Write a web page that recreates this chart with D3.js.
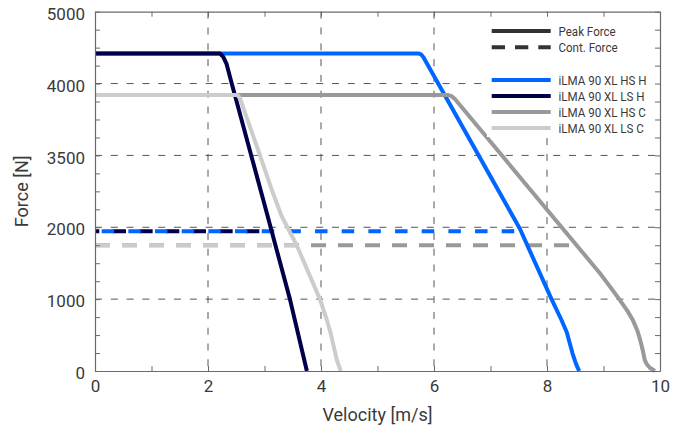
<!DOCTYPE html>
<html>
<head>
<meta charset="utf-8">
<script src="https://cdn.jsdelivr.net/npm/d3@7"></script>
<style>
  html, body { margin: 0; padding: 0; background: #fff; }
  svg { display: block; font-family: Roboto, "Noto Sans", sans-serif; }
</style>
</head>
<body>
<svg id="chart" width="688" height="438"></svg>
<script>
// Axis ticks and labels
const xTicks = [0, 1, 2, 3, 4, 5, 6, 7, 8, 9, 10];
const xGrid = [2, 4, 6, 8];
const yTicks = d3.range(0, 5001, 250);
const yLabelValues = [0, 1000, 2000, 3000, 4000, 5000];
const yLabels = ["0", "1000", "2000", "3500", "4000", "5000"];
const yGrid = [1000, 2000, 3000, 4000];

// Series names and colours
const seriesNames = ["iLMA 90 XL HS H", "iLMA 90 XL LS H", "iLMA 90 XL HS C", "iLMA 90 XL LS C"];
const seriesColors = ["#0066ff", "#00004a", "#999999", "#cccccc"];

// Peak force curves: velocity [m/s] and force [N]
const hsHVel = [0, 5.72, 5.77, 5.81, 7.52, 8.08, 8.25, 8.35, 8.45, 8.50, 8.54, 8.57];
const hsHForce = [4420, 4420, 4405, 4370, 1980, 1000, 720, 540, 250, 130, 50, 0];
const lsHVel = [0, 2.21, 2.27, 2.33, 2.42, 2.98, 3.45, 3.75];
const lsHForce = [4420, 4420, 4370, 4270, 4000, 2375, 1000, 0];
const hsCVel = [0, 6.25, 6.31, 6.37, 8.94, 9.12, 9.29, 9.42, 9.52, 9.60, 9.65, 9.70, 9.73, 9.77, 9.82, 9.91];
const hsCForce = [3840, 3840, 3825, 3785, 1357, 1170, 986, 840, 708, 560, 430, 270, 153, 90, 45, 0];
const lsCVel = [0, 2.51, 2.54, 2.57, 2.89, 3.12, 3.30, 3.57, 3.98, 4.10, 4.17, 4.28, 4.35];
const lsCForce = [3840, 3840, 3825, 3785, 3069, 2540, 2160, 1750, 1000, 720, 528, 153, 0];

// Continuous force levels [N] and the velocity range they span
const contForce = [1945, 1945, 1750, 1750];
const contEnd = [7.5, 3.1, 8.5, 3.57];

const svg = d3.select("#chart");
const x = d3.scaleLinear().domain([0, 10]).range([95, 660]);
const y = d3.scaleLinear().domain([0, 5000]).range([371, 11.7]);

const axisColor = "#6a6a6a";
const textColor = "#3a3a3a";

// Dashed grid
const grid = svg.append("g").attr("stroke", "#555").attr("stroke-width", 1)
  .attr("stroke-dasharray", "7,8.8").attr("fill", "none");
xGrid.forEach(v => grid.append("line")
  .attr("x1", x(v)).attr("x2", x(v)).attr("y1", y(5000)).attr("y2", y(0)));
yGrid.forEach(v => grid.append("line")
  .attr("x1", x(0)).attr("x2", x(10)).attr("y1", y(v)).attr("y2", y(v)));

// Continuous force dashed lines (light series drawn over darker ones)
const line = d3.line().x(d => x(d[0])).y(d => y(d[1]));
const contStyle = [
  { dash: "12.5,14.17", offset: 20 },
  { dash: "13.3,13.37", offset: 9 },
  { dash: "15,12", offset: 0 },
  { dash: "15,12", offset: 0 }
];
const contOrder = [1, 0, 2, 3];
contOrder.forEach(i => {
  svg.append("path")
    .attr("d", line([[0, contForce[i]], [contEnd[i], contForce[i]]]))
    .attr("fill", "none").attr("stroke", seriesColors[i]).attr("stroke-width", 4.2)
    .attr("stroke-dasharray", contStyle[i].dash)
    .attr("stroke-dashoffset", contStyle[i].offset);
});

// Peak force curves
const peaks = [
  d3.zip(hsHVel, hsHForce),
  d3.zip(lsHVel, lsHForce),
  d3.zip(hsCVel, hsCForce),
  d3.zip(lsCVel, lsCForce)
];
peaks.forEach((pts, i) => {
  svg.append("path").attr("d", line(pts))
    .attr("fill", "none").attr("stroke", seriesColors[i]).attr("stroke-width", 4)
    .attr("stroke-linejoin", "round");
});

// Legend background
const lg = { x0: 487, x1: 659, y0: 12.5, y1: 137 };
svg.append("rect").attr("x", lg.x0).attr("y", lg.y0)
  .attr("width", lg.x1 - lg.x0).attr("height", lg.y1 - lg.y0).attr("fill", "#fff");

// Axes with inward ticks on all four sides
const tickLen = 5;
const gx = svg.append("g").attr("transform", `translate(0,${y(0)})`)
  .call(d3.axisBottom(x).tickValues(xTicks).tickSizeInner(-tickLen).tickSizeOuter(0)
    .tickPadding(9).tickFormat(d => d % 2 === 0 ? d : ""));
const gxt = svg.append("g").attr("transform", `translate(0,${y(5000)})`)
  .call(d3.axisTop(x).tickValues(xTicks).tickSizeInner(-tickLen).tickSizeOuter(0).tickFormat(""));
const gy = svg.append("g").attr("transform", `translate(${x(0)},0)`)
  .call(d3.axisLeft(y).tickValues(yTicks).tickSizeInner(-tickLen).tickSizeOuter(0)
    .tickPadding(10).tickFormat(d => {
      const k = yLabelValues.indexOf(d);
      return k >= 0 ? yLabels[k] : "";
    }));
const gyr = svg.append("g").attr("transform", `translate(${x(10)},0)`)
  .call(d3.axisRight(y).tickValues(yTicks).tickSizeInner(-tickLen).tickSizeOuter(0).tickFormat(""));

[gx, gxt, gy, gyr].forEach(g => {
  g.select(".domain").attr("stroke", axisColor).attr("stroke-width", 1.2);
  g.selectAll(".tick line").attr("stroke", axisColor).attr("stroke-width", 1);
  g.selectAll(".tick text").attr("fill", textColor).attr("font-size", 17)
    .attr("font-family", "Roboto, sans-serif");
});
gy.selectAll(".tick text").attr("dy", "0.45em");

// Axis titles
svg.append("text").attr("x", (x(0) + x(10)) / 2).attr("y", 421)
  .attr("text-anchor", "middle").attr("fill", textColor).attr("font-size", 18)
  .text("Velocity [m/s]");
svg.append("text")
  .attr("transform", `translate(28,${(y(0) + y(5000)) / 2}) rotate(-90)`)
  .attr("text-anchor", "middle").attr("fill", textColor).attr("font-size", 18)
  .text("Force [N]");

// Legend entries (narrowed text)
const legendKeys = [
  { label: "Peak Force", color: "#333", dash: null, yPos: 31 },
  { label: "Cont. Force", color: "#333", dash: "13.3,10", yPos: 47.3 }
].concat(seriesNames.map((n, i) => ({ label: n, color: seriesColors[i], dash: null, yPos: 80 + i * 16 })));
const legend = svg.append("g");
legendKeys.forEach(k => {
  legend.append("line").attr("x1", 491.7).attr("x2", 550.7)
    .attr("y1", k.yPos).attr("y2", k.yPos)
    .attr("stroke", k.color).attr("stroke-width", 4)
    .attr("stroke-dasharray", k.dash);
  legend.append("text")
    .attr("transform", `translate(558.5,${k.yPos}) scale(0.89,1)`)
    .attr("dy", "0.36em")
    .attr("fill", textColor).attr("font-size", 13).text(k.label);
});
</script>
</body>
</html>
